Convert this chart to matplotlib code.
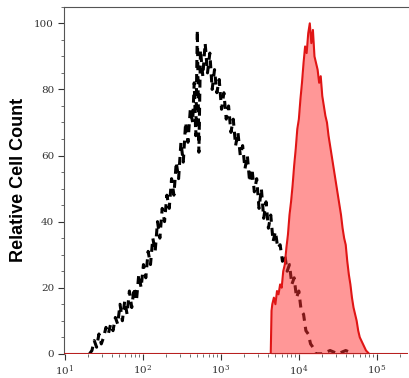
import numpy as np
import matplotlib
matplotlib.use("Agg")
import matplotlib.pyplot as plt
from matplotlib.ticker import LogLocator, FixedLocator, MultipleLocator

# isotype control (black dashed), log10 of fluorescence bins
ctrl_log = [1.32, 1.35, 1.38, 1.41, 1.44, 1.47, 1.50, 1.53, 1.56, 1.59, 1.62, 1.65,
            1.68, 1.71, 1.74, 1.77, 1.80, 1.83, 1.86, 1.89, 1.92, 1.95, 1.98, 2.01,
            2.04, 2.07, 2.10, 2.13, 2.16, 2.19, 2.22, 2.25, 2.28, 2.31, 2.34, 2.37,
            2.40, 2.43, 2.46, 2.49, 2.52, 2.55, 2.58, 2.61, 2.64, 2.66, 2.68, 2.70,
            2.72, 2.74, 2.77, 2.80, 2.83, 2.86, 2.89, 2.92, 2.95, 2.98, 3.01, 3.04,
            3.07, 3.10, 3.13, 3.16, 3.19, 3.22, 3.25, 3.28, 3.31, 3.34, 3.37, 3.40,
            3.43, 3.46, 3.49, 3.52, 3.55, 3.58, 3.61, 3.64, 3.67, 3.70, 3.73, 3.76,
            3.79, 3.82, 3.85, 3.88, 3.91, 3.94, 3.97, 4.00, 4.03, 4.06, 4.09, 4.12,
            4.15, 4.18, 4.21, 4.30, 4.40, 4.50, 4.60, 4.70]
ctrl_cnt = [0, 1, 4, 2, 6, 3, 5, 8, 6, 9, 7, 11,
            9, 15, 10, 16, 12, 19, 14, 20, 16, 24, 20, 27,
            23, 31, 27, 35, 31, 40, 35, 44, 40, 48, 44, 53,
            48, 58, 53, 64, 58, 70, 64, 74, 70, 82, 66, 98,
            61, 92, 84, 94, 85, 91, 80, 86, 79, 83, 74, 79,
            71, 75, 67, 71, 63, 67, 60, 63, 56, 60, 52, 56,
            49, 53, 44, 50, 41, 46, 38, 42, 34, 37, 32, 33,
            28, 30, 25, 27, 21, 23, 17, 19, 13, 12, 7, 6,
            3, 2, 0, 0, 1, 0, 1, 0]

# stained sample (red filled)
samp_log = [3.64, 3.65, 3.66, 3.68, 3.70, 3.72, 3.74, 3.76, 3.78, 3.80, 3.82, 3.84,
            3.86, 3.88, 3.90, 3.92, 3.94, 3.96, 3.98, 4.00, 4.02, 4.04, 4.06, 4.08,
            4.10, 4.12, 4.14, 4.16, 4.18, 4.20, 4.22, 4.24, 4.26, 4.28, 4.30, 4.32,
            4.34, 4.36, 4.38, 4.40, 4.42, 4.44, 4.46, 4.48, 4.50, 4.52, 4.54, 4.56,
            4.58, 4.60, 4.62, 4.64, 4.66, 4.68, 4.70, 4.72, 4.74, 4.76, 4.78, 4.80,
            4.82, 4.84, 4.86, 4.88, 4.90]
samp_cnt = [0, 13, 15, 17, 15, 19, 18, 21, 20, 25, 27, 32,
            36, 42, 46, 51, 57, 62, 68, 71, 77, 82, 88, 93,
            91, 97, 100, 94, 98, 90, 88, 86, 82, 84, 78, 75,
            72, 70, 66, 63, 60, 57, 54, 51, 48, 45, 42, 38,
            35, 33, 28, 24, 21, 17, 14, 12, 10, 7, 5, 4,
            3, 2, 1, 0.5, 0]

xticks = [1e1, 1e2, 1e3, 1e4, 1e5]
xticklabels = [r"$10^{1}$", r"$10^{2}$", r"$10^{3}$", r"$10^{4}$", r"$10^{5}$"]
yticks = [0, 20, 40, 60, 80, 100]

plt.rcParams["mathtext.fontset"] = "dejavuserif"

fig = plt.figure(figsize=(4.09, 3.78), dpi=100)
ax = fig.add_axes([0.156, 0.064, 0.842, 0.918])

ax.plot(10 ** np.array(ctrl_log), ctrl_cnt, color="black", lw=2.2,
        linestyle=(0, (2.6, 2.0)), zorder=2)
sx = 10 ** np.array(samp_log)
ax.fill_between(sx, 0, samp_cnt, color="#ff3030", alpha=0.5, lw=0, zorder=3)
ax.plot(sx, samp_cnt, color="#e01515", lw=1.5, zorder=4)

ax.set_xscale("log")
ax.set_xlim(10 ** 0.99, 10 ** 5.4)
ax.set_ylim(0, 105)
ax.axhline(0, color="#b82020", lw=1.5, zorder=5)

ax.xaxis.set_major_locator(FixedLocator(xticks))
ax.set_xticklabels(xticklabels)
ax.xaxis.set_minor_locator(LogLocator(base=10, subs=np.arange(2, 10)))
ax.xaxis.set_minor_formatter(plt.NullFormatter())
ax.set_yticks(yticks)
ax.yaxis.set_minor_locator(MultipleLocator(5))

for lab in ax.get_yticklabels():
    lab.set_family("DejaVu Serif")
ax.tick_params(axis="both", which="major", labelsize=7.5, length=4, width=0.8,
               colors="#333333", labelcolor="#333333", pad=3)
ax.tick_params(axis="both", which="minor", length=2, width=0.6, colors="#555555")

ax.spines["right"].set_visible(False)
ax.spines["top"].set_color("#555555")
ax.spines["left"].set_color("#555555")
ax.spines["bottom"].set_visible(False)

ax.set_ylabel("Relative Cell Count", fontsize=13, fontweight="bold",
              family="Liberation Sans")
ax.yaxis.set_label_coords(-0.108, 0.5)

fig.savefig("out.png", dpi=100)
